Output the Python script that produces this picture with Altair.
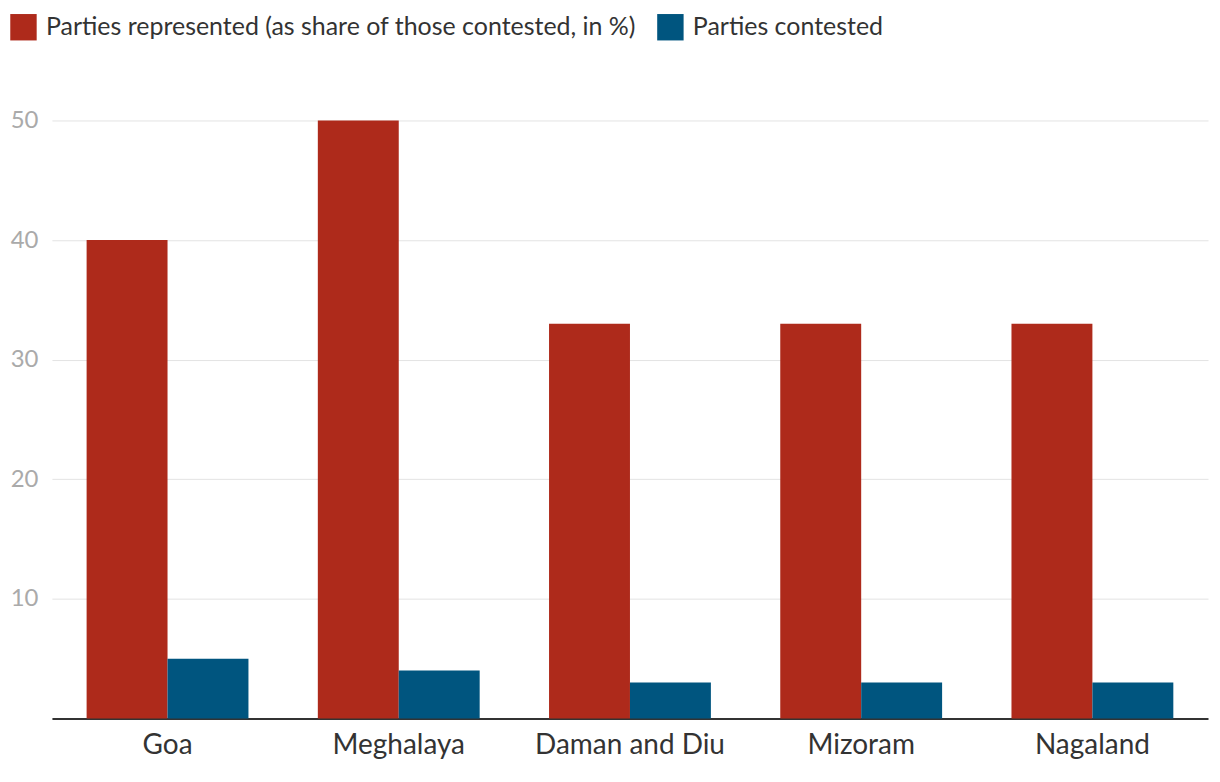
import altair as alt
import pandas as pd

states = ["Goa", "Meghalaya", "Daman and Diu", "Mizoram", "Nagaland"]
represented = [40, 50, 33, 33, 33]
contested = [5, 4, 3, 3, 3]
series = ["Parties represented (as share of those contested, in %)", "Parties contested"]
colors = ["#ae2a1b", "#00557f"]

rows = []
for s, r, c in zip(states, represented, contested):
    rows.append({"state": s, "series": series[0], "value": r})
    rows.append({"state": s, "series": series[1], "value": c})
df = pd.DataFrame(rows)

FONT = "Lato"

chart = alt.Chart(df).mark_bar().encode(
    x=alt.X("state:N", sort=states, title=None,
            scale=alt.Scale(paddingInner=0.3, paddingOuter=0.15),
            axis=alt.Axis(labelAngle=0, labelFontSize=28, labelColor="#333333",
                          labelPadding=13, ticks=False, domainColor="#333333",
                          domainWidth=2, labelFont=FONT, labelLimit=400)),
    xOffset=alt.XOffset("series:N", sort=series),
    y=alt.Y("value:Q", title=None,
            scale=alt.Scale(domain=[0, 50]),
            axis=alt.Axis(values=[10, 20, 30, 40, 50], labelFontSize=24,
                          labelColor="#aaaaaa", labelPadding=14, ticks=False,
                          domain=False, gridColor="#e3e3e3", labelFont=FONT)),
    color=alt.Color("series:N", sort=series,
                    scale=alt.Scale(domain=series, range=colors),
                    legend=alt.Legend(title=None, orient="none", direction="horizontal",
                                      legendX=-42, legendY=-107,
                                      symbolType="square", symbolSize=700,
                                      symbolStrokeWidth=0, symbolOpacity=1,
                                      labelFontSize=25, labelColor="#333333",
                                      labelFont=FONT, labelOffset=9,
                                      columnPadding=20, labelLimit=800)),
).properties(
    width=1158, height=599, autosize="none",
    padding={"left": 44, "top": 112, "right": 4, "bottom": 55},
).configure_view(stroke=None)

chart.save("out.html", embed_options={"renderer": "svg", "actions": False})
